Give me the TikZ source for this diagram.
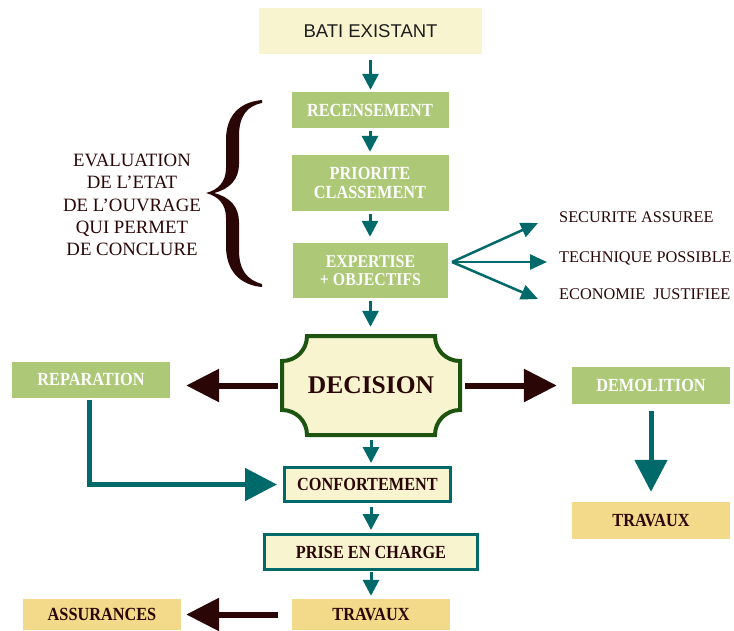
\documentclass[tikz,border=0pt]{standalone}
\usepackage{fontspec}
\setmainfont{Liberation Serif}
\newfontfamily\boxfont[FakeStretch=0.88]{Liberation Serif}
\newfontfamily\batifont{Liberation Sans}
\usetikzlibrary{arrows.meta}
\definecolor{cteal}{RGB}{0,106,106}
\definecolor{cgreen}{RGB}{173,201,120}
\definecolor{ccream}{RGB}{248,244,208}
\definecolor{cgold}{RGB}{243,217,138}
\definecolor{cbrown}{RGB}{42,6,6}
\definecolor{cdgreen}{RGB}{28,84,16}
\definecolor{cbatitext}{RGB}{30,30,30}
\begin{document}
\begin{tikzpicture}[x=1pt,y=-1pt,
  boxlabel/.style={font=\boxfont\bfseries\fontsize{18.5}{19}\selectfont},
  greenbox/.style={boxlabel, fill=cgreen, text=white, inner sep=0pt, align=center},
  creambox/.style={boxlabel, fill=ccream, draw=cteal, line width=3pt, text=cbrown, inner sep=0pt, align=center},
  goldbox/.style={boxlabel, fill=cgold, text=cbrown, inner sep=0pt, align=center},
  batibox/.style={fill=ccream, text=cbatitext, inner sep=0pt, font=\batifont\fontsize{18.5}{20}\selectfont},
  sidetext/.style={text=cbrown, inner sep=0pt, font=\fontsize{16.3}{18}\selectfont},
  evaltext/.style={text=cbrown, inner sep=0pt, align=center, font=\fontsize{18.8}{22.4}\selectfont},
  tarrow/.style={draw=cteal, line width=3pt, -{Triangle[length=16pt,width=16pt]}},
  farrow/.style={draw=cteal, line width=2.5pt, -{Triangle[length=17pt,width=15pt]}},
  bigbrown/.style={draw=cbrown, line width=6pt, -{Triangle[length=33pt,width=32pt]}},
  bigteal/.style={draw=cteal, line width=5pt, line join=miter, -{Triangle[length=32pt,width=32pt]}},
  decshape/.style={draw=cdgreen, fill=ccream, line width=4pt}
]
\useasboundingbox (0,0) rectangle (734,630);

% column boxes
\node[batibox, minimum width=223pt, minimum height=46pt] (bati) at (370.5,31) {BATI EXISTANT};
\node[greenbox, minimum width=157pt, minimum height=36pt] (recens) at (370,110) {RECENSEMENT};
\node[greenbox, minimum width=157pt, minimum height=56pt] (prio) at (370,183) {PRIORITE\\CLASSEMENT};
\node[greenbox, minimum width=155pt, minimum height=55pt, font=\boxfont\bfseries\fontsize{18}{17.5}\selectfont] (expert) at (370.5,270.5) {EXPERTISE\\+ OBJECTIFS};

% decision shape
\path[decshape] (307,336) -- (435,336)
  .. controls (435,350) and (446,361) .. (460,361) -- (460,410)
  .. controls (446,410) and (435,421) .. (435,435) -- (307,435)
  .. controls (307,421) and (296,410) .. (282,410) -- (282,361)
  .. controls (296,361) and (307,350) .. (307,336) -- cycle;
\node[inner sep=0pt, minimum width=182pt, minimum height=103pt, text=cbrown, font=\bfseries\fontsize{25.5}{26}\selectfont] (decision) at (371,385.5) {DECISION};

\node[greenbox, minimum width=158pt, minimum height=36pt] (repar) at (91,379.5) {REPARATION};
\node[greenbox, minimum width=158pt, minimum height=37pt] (demol) at (651,385.5) {DEMOLITION};

\node[creambox, minimum width=166pt, minimum height=34pt] (confort) at (367.5,484.5) {CONFORTEMENT};
\node[creambox, minimum width=213pt, minimum height=35pt] (prise) at (371,552) {PRISE EN CHARGE};
\node[goldbox, minimum width=158pt, minimum height=31pt] (travaux1) at (371,614.5) {TRAVAUX};
\node[goldbox, minimum width=158pt, minimum height=31pt] (assur) at (102,614.5) {ASSURANCES};
\node[goldbox, minimum width=158pt, minimum height=37pt] (travaux2) at (651,520.5) {TRAVAUX};

% left text and brace
\node[evaltext] (eval) at (132,205) {EVALUATION\\DE L’ETAT\\DE L’OUVRAGE\\QUI PERMET\\DE CONCLURE};
\fill[cbrown] (262,100)
  .. controls (240,102) and (226,115) .. (226,140) -- (226,168)
  .. controls (226,182) and (218,190) .. (206,193)
  .. controls (218,196) and (226,204) .. (226,218) -- (226,246)
  .. controls (226,271) and (240,285) .. (262,287) -- (262,284)
  .. controls (247,280) and (239,270) .. (239,250) -- (239,222)
  .. controls (239,207) and (230,197) .. (214,193)
  .. controls (230,189) and (239,179) .. (239,164) -- (239,136)
  .. controls (239,116) and (247,106) .. (262,103) -- cycle;

% right texts
\node[sidetext, anchor=base west] (secu) at (559,222) {SECURITE ASSUREE};
\node[sidetext, anchor=base west] (tech) at (559,262) {TECHNIQUE POSSIBLE};
\node[sidetext, anchor=base west] (eco) at (559,299) {ECONOMIE\ \ JUSTIFIEE};

% column arrows
\draw[tarrow, shorten <=6pt, shorten >=2pt] (bati) -- (bati |- recens.north);
\draw[tarrow, shorten <=3pt, shorten >=3pt] (recens) -- (prio);
\draw[tarrow, shorten <=3pt, shorten >=6pt] (prio) -- (prio |- expert.north);
\draw[tarrow, shorten <=3pt, shorten >=7pt] (expert) -- (expert |- decision.north);
\draw[tarrow, shorten <=3pt, shorten >=3pt] (decision) -- (decision |- confort.north);
\draw[tarrow, shorten <=4pt, shorten >=3pt] (confort.south -| prise) -- (prise);
\draw[tarrow, shorten <=1pt, shorten >=3pt] (prise) -- (travaux1);

% fork arrows
\coordinate (fork) at (452,262);
\coordinate (e1) at (538,223);
\coordinate (e2) at (547,262);
\coordinate (e3) at (538,299);
\draw[farrow] (fork) -- (e1);
\draw[farrow] (fork) -- (e2);
\draw[farrow] (fork) -- (e3);

% big arrows
\draw[bigbrown, shorten <=2pt, shorten >=16pt] (decision.west) -- (decision.west -| repar.east);
\draw[bigbrown, shorten <=3pt, shorten >=15pt] (decision.east) -- (decision.east -| demol.west);
\draw[bigteal, shorten <=2pt, shorten >=6pt] ([xshift=-2pt]repar.south) |- (confort.west);
\draw[bigteal, shorten <=7pt, shorten >=10pt] (demol) -- (travaux2);
\draw[bigbrown, shorten <=14pt, shorten >=5pt] (travaux1) -- (assur);
\end{tikzpicture}
\end{document}
